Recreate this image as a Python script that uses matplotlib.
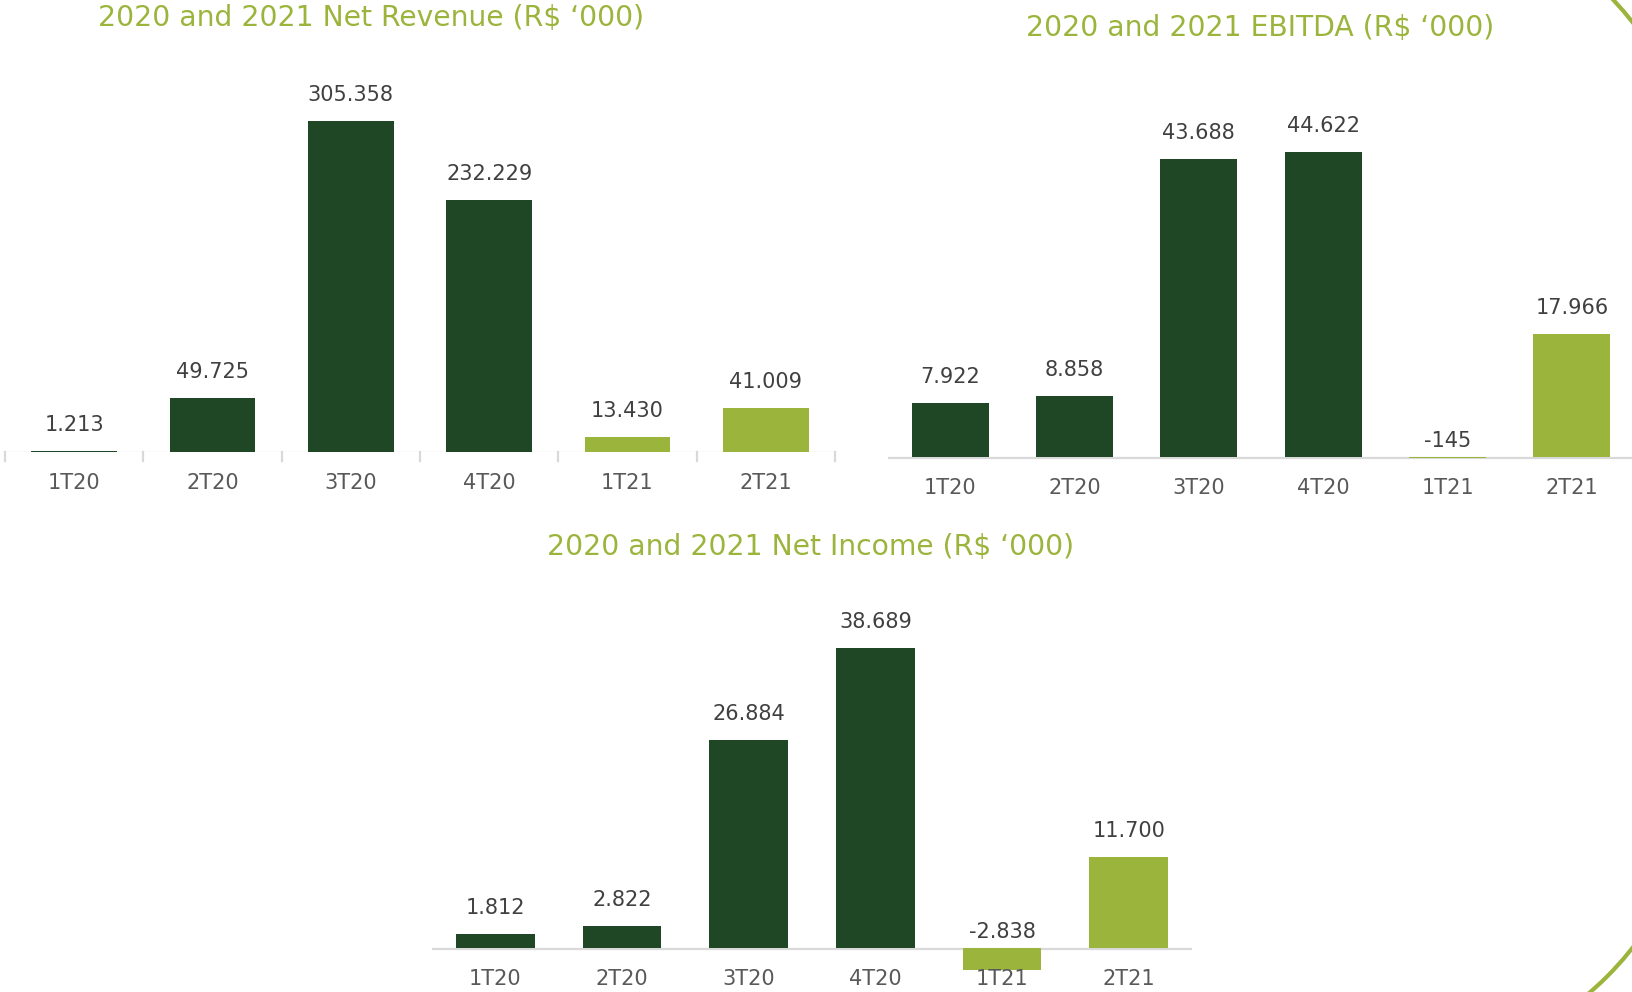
import numpy as np
import matplotlib.pyplot as plt
from matplotlib.patches import Arc
from matplotlib.transforms import offset_copy

plt.rcParams['font.family'] = ['DejaVu Sans']

#%% data
quarters = ["1T20", "2T20", "3T20", "4T20", "1T21", "2T21"]
revenue = [1.213, 49.725, 305.358, 232.229, 13.430, 41.009]
ebitda = [7.922, 8.858, 43.688, 44.622, -0.145, 17.966]
net_income = [1.812, 2.822, 26.884, 38.689, -2.838, 11.700]

revenue_labels = ["1.213", "49.725", "305.358", "232.229", "13.430", "41.009"]
ebitda_labels = ["7.922", "8.858", "43.688", "44.622", "-145", "17.966"]
income_labels = ["1.812", "2.822", "26.884", "38.689", "-2.838", "11.700"]

DARK = "#1f4726"
LIME = "#9bb43c"
TEXT = "#404040"
LINE = "#d9d9d9"
colors = [DARK] * 4 + [LIME] * 2

W, H = 1632, 992
fig = plt.figure(figsize=(W / 100, H / 100), dpi=100)


def make_axes(left, right, zero_y, scale, ymin, ymax):
    # axes placed in pixel units, scale = pixels per data unit
    bottom = zero_y + (-ymin) * scale
    top = zero_y - ymax * scale
    ax = fig.add_axes([left / W, 1 - bottom / H, (right - left) / W, (bottom - top) / H])
    ax.set_xlim(-0.5, len(quarters) - 0.5)
    ax.set_ylim(ymin, ymax)
    ax.axis("off")
    return ax


def draw_bars(ax, values, labels):
    x = np.arange(len(quarters))
    ax.bar(x, values, width=0.62, color=colors, zorder=2)
    # baseline sits just under the bars
    base = offset_copy(ax.get_yaxis_transform(), fig=fig, y=-1, units="dots")
    ax.plot([0, 1], [0, 0], color=LINE, lw=1.6, transform=base, zorder=1)
    for i, (v, lab) in enumerate(zip(values, labels)):
        off = 26 if v > 0 else 16
        ax.annotate(lab, (i, max(v, 0)), xytext=(0, off), textcoords="offset pixels",
                    ha="center", va="center", fontsize=15, color=TEXT)
        ax.annotate(quarters[i], (i, 0), xytext=(0, -31), textcoords="offset pixels",
                    ha="center", va="center", fontsize=15, color="#595959")


# net revenue
ax1 = make_axes(5, 835, 452, 1.084, 0, 340)
draw_bars(ax1, revenue, revenue_labels)
for b in np.arange(-0.5, 6.0, 1.0):
    ax1.plot([b, b], [0, -9 / 1.084], color=LINE, lw=1.6, clip_on=False, zorder=1)

# ebitda
ax2 = make_axes(888, 1634, 457, 6.83, -1, 50)
draw_bars(ax2, ebitda, ebitda_labels)

# net income
ax3 = make_axes(432, 1192, 948, 7.75, -4, 44)
draw_bars(ax3, net_income, income_labels)

title_kw = dict(color=LIME, fontsize=20.3, ha="center", va="center")
fig.text(371 / W, 1 - 18 / H, "2020 and 2021 Net Revenue (R$ \u2018000)", **title_kw)
fig.text(1260 / W, 1 - 28 / H, "2020 and 2021 EBITDA (R$ \u2018000)", **title_kw)
fig.text(811 / W, 1 - 547 / H, "2020 and 2021 Net Income (R$ \u2018000)", **title_kw)

# corners of a large rounded frame, in pixels (y up)
R = 320
for cx, cy, t1, t2 in [(1381, H - 220, 0, 90), (1381, H - 750, 270, 360), (-210, H - 750, 180, 270)]:
    fig.add_artist(Arc((cx, cy), 2 * R, 2 * R, theta1=t1, theta2=t2, transform=None,
                       edgecolor=LIME, lw=3, zorder=0))

fig.savefig("out.png", dpi=100)
